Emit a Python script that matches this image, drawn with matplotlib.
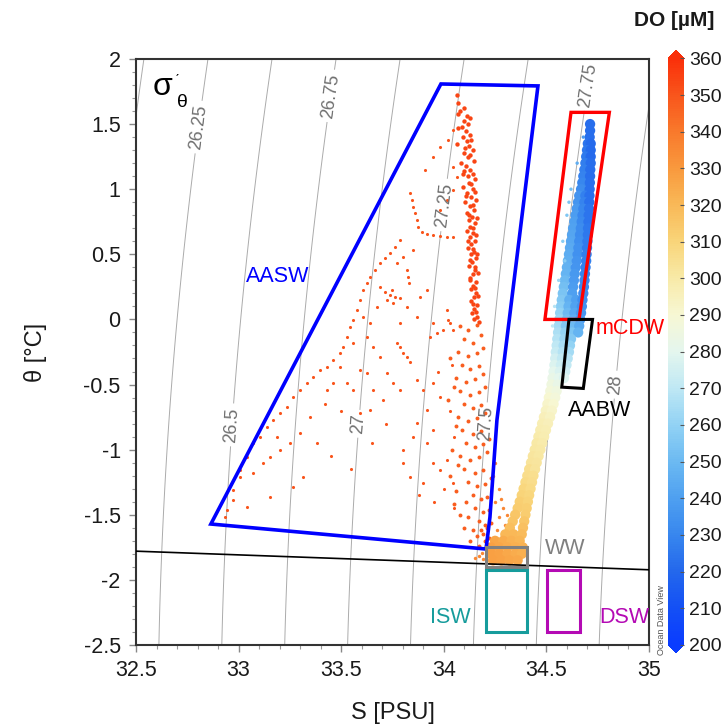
import numpy as np
import matplotlib.pyplot as plt
from matplotlib.colors import LinearSegmentedColormap, Normalize
from matplotlib.cm import ScalarMappable

plt.rcParams['font.family'] = ['Liberation Sans', 'DejaVu Sans']

# mCDW core + tail down to WW (S, theta, DO), one row per theta level
cdw_s = [34.713,
         34.713,
         34.711,
         34.702, 34.716,
         34.698, 34.716,
         34.694, 34.716,
         34.690, 34.716,
         34.685, 34.714,
         34.680, 34.713,
         34.675, 34.712,
         34.669, 34.711,
         34.660, 34.690, 34.710,
         34.654, 34.685, 34.709,
         34.648, 34.680, 34.708,
         34.642, 34.676, 34.706,
         34.636, 34.672, 34.705,
         34.630, 34.668, 34.703,
         34.625, 34.664, 34.702,
         34.620, 34.660, 34.700,
         34.615, 34.656, 34.698,
         34.610, 34.652, 34.696,
         34.605, 34.648, 34.694,
         34.600, 34.643, 34.691,
         34.595, 34.638, 34.688,
         34.590, 34.634, 34.686,
         34.585, 34.630, 34.683,
         34.580, 34.626, 34.680,
         34.575, 34.612, 34.645, 34.676,
         34.571, 34.608, 34.641, 34.673,
         34.567, 34.604, 34.637, 34.669,
         34.563, 34.600, 34.633, 34.665,
         34.560, 34.595, 34.630, 34.660,
         34.557, 34.592, 34.625, 34.655,
         34.553, 34.588, 34.620,
         34.550, 34.584, 34.615,
         34.546, 34.580, 34.610,
         34.543, 34.576, 34.604,
         34.539, 34.571, 34.598,
         34.535, 34.566, 34.592,
         34.530, 34.561, 34.586,
         34.525, 34.556,
         34.519, 34.550,
         34.512, 34.543,
         34.505, 34.535,
         34.497, 34.527,
         34.488, 34.518,
         34.479, 34.508,
         34.470, 34.498,
         34.461, 34.489,
         34.452, 34.480,
         34.443, 34.471,
         34.434, 34.462,
         34.425, 34.453,
         34.416, 34.445,
         34.407, 34.437,
         34.398, 34.430,
         34.389, 34.423,
         34.380, 34.416,
         34.370, 34.410,
         34.360, 34.404,
         34.348, 34.398,
         34.336, 34.392,
         34.322, 34.386,
         34.300, 34.340, 34.380,
         34.250, 34.290, 34.330, 34.370,
         34.230, 34.270, 34.310, 34.350, 34.385,
         34.230, 34.270, 34.310, 34.350, 34.380,
         34.240, 34.280, 34.320, 34.360]
cdw_t = [1.50,
         1.45,
         1.40,
         1.35, 1.35,
         1.30, 1.30,
         1.25, 1.25,
         1.20, 1.20,
         1.15, 1.15,
         1.10, 1.10,
         1.05, 1.05,
         1.00, 1.00,
         0.95, 0.95, 0.95,
         0.90, 0.90, 0.90,
         0.85, 0.85, 0.85,
         0.80, 0.80, 0.80,
         0.75, 0.75, 0.75,
         0.70, 0.70, 0.70,
         0.65, 0.65, 0.65,
         0.60, 0.60, 0.60,
         0.55, 0.55, 0.55,
         0.50, 0.50, 0.50,
         0.45, 0.45, 0.45,
         0.40, 0.40, 0.40,
         0.35, 0.35, 0.35,
         0.30, 0.30, 0.30,
         0.25, 0.25, 0.25,
         0.20, 0.20, 0.20,
         0.15, 0.15, 0.15, 0.15,
         0.10, 0.10, 0.10, 0.10,
         0.05, 0.05, 0.05, 0.05,
         0.00, 0.00, 0.00, 0.00,
         -0.05, -0.05, -0.05, -0.05,
         -0.10, -0.10, -0.10, -0.10,
         -0.15, -0.15, -0.15,
         -0.20, -0.20, -0.20,
         -0.25, -0.25, -0.25,
         -0.30, -0.30, -0.30,
         -0.35, -0.35, -0.35,
         -0.40, -0.40, -0.40,
         -0.45, -0.45, -0.45,
         -0.50, -0.50,
         -0.55, -0.55,
         -0.60, -0.60,
         -0.65, -0.65,
         -0.70, -0.70,
         -0.75, -0.75,
         -0.80, -0.80,
         -0.85, -0.85,
         -0.90, -0.90,
         -0.95, -0.95,
         -1.00, -1.00,
         -1.05, -1.05,
         -1.10, -1.10,
         -1.15, -1.15,
         -1.20, -1.20,
         -1.25, -1.25,
         -1.30, -1.30,
         -1.35, -1.35,
         -1.40, -1.40,
         -1.45, -1.45,
         -1.50, -1.50,
         -1.55, -1.55,
         -1.60, -1.60,
         -1.65, -1.65, -1.65,
         -1.70, -1.70, -1.70, -1.70,
         -1.75, -1.75, -1.75, -1.75, -1.75,
         -1.80, -1.80, -1.80, -1.80, -1.80,
         -1.85, -1.85, -1.85, -1.85]
cdw_do = [222,
          222,
          222,
          224, 221,
          225, 221,
          226, 221,
          227, 222,
          228, 222,
          229, 222,
          230, 223,
          232, 223,
          235, 228, 223,
          236, 229, 223,
          238, 230, 224,
          239, 230, 224,
          240, 231, 224,
          241, 232, 225,
          242, 232, 225,
          243, 233, 226,
          244, 234, 226,
          245, 234, 227,
          246, 235, 228,
          247, 236, 228,
          248, 237, 229,
          250, 238, 230,
          252, 239, 231,
          254, 240, 232,
          256, 246, 240, 233,
          258, 248, 241, 234,
          260, 250, 243, 236,
          262, 252, 245, 238,
          264, 256, 250, 244,
          266, 260, 254, 248,
          268, 262, 256,
          270, 265, 260,
          272, 268, 264,
          275, 271, 268,
          278, 274, 271,
          280, 277, 274,
          283, 280, 278,
          286, 283,
          288, 286,
          290, 288,
          292, 290,
          294, 292,
          296, 294,
          297, 296,
          298, 297,
          299, 298,
          300, 299,
          301, 300,
          302, 301,
          303, 302,
          305, 303,
          306, 305,
          307, 306,
          309, 307,
          310, 309,
          312, 310,
          313, 312,
          315, 313,
          316, 315,
          318, 317,
          320, 320, 319,
          326, 324, 322, 321,
          328, 326, 324, 323, 322,
          328, 327, 325, 324, 323,
          328, 327, 326, 325]

# scattered light-blue points at the wedge edge
edge_s = [34.600, 34.580, 34.620, 34.560, 34.540, 34.650, 34.590, 34.680, 34.530, 34.610]
edge_t = [0.80, 0.60, 1.00, 0.30, 0.10, 1.20, 0.45, 1.40, -0.05, 0.90]
edge_do = [255, 258, 252, 262, 268, 245, 258, 238, 270, 254]

# AASW scatter (orange, DO ~350)
aasw_s = [33.787, 33.762, 33.738, 33.714, 33.689, 33.665, 33.640, 33.624, 33.608, 33.592,
          33.575, 33.559, 33.543, 33.527, 33.511, 33.494, 33.462, 33.429, 33.397, 33.364,
          33.332, 33.299, 33.267, 33.234, 33.202, 33.169, 33.137, 33.104, 33.072, 33.039,
          33.007, 32.974, 32.942, 32.934,
          33.835, 33.843, 33.852, 33.860, 33.868, 33.876, 33.892, 33.917, 33.949, 33.982,
          34.014, 34.047,
          33.908, 33.949, 33.982, 34.022, 34.047, 33.982, 34.014, 34.047, 34.063, 34.047,
          33.689, 33.714, 33.738, 33.762, 33.787, 33.746, 33.722, 33.754, 33.819, 33.827,
          33.832,
          33.884, 33.917, 33.868, 33.949, 33.933, 33.965, 33.998, 34.014, 34.022, 34.030,
          34.047, 33.787, 33.803, 33.819, 33.835, 33.770, 33.657, 33.689, 33.722, 33.754,
          33.787, 33.592, 33.624, 33.494, 33.527, 33.462, 33.429, 33.559, 33.657, 33.868,
          33.900, 33.949, 33.982, 33.917, 33.868, 33.949, 33.852, 33.803, 33.835, 33.949,
          33.982, 34.014, 34.047, 33.900,
          33.592, 33.640, 33.705, 33.381, 33.299, 33.251, 33.202, 33.153, 33.121, 33.186,
          33.316, 33.267, 33.153, 33.039, 32.974, 33.007, 33.072,
          33.608, 33.640, 33.673, 33.559, 33.624, 33.787, 33.819, 33.770, 33.803, 33.852,
          33.880, 33.950, 34.000, 33.800, 34.050, 33.920, 34.030, 34.050, 33.970, 34.040,
          33.720, 33.650, 33.500, 33.420, 33.350, 33.550, 33.450]
aasw_t = [0.610, 0.559, 0.508, 0.469, 0.431, 0.380, 0.328, 0.277, 0.226, 0.149,
          0.072, -0.004, -0.056, -0.132, -0.209, -0.260, -0.312, -0.363, -0.388, -0.440,
          -0.491, -0.542, -0.593, -0.670, -0.721, -0.772, -0.824, -0.900, -0.952, -1.054,
          -1.156, -1.310, -1.464, -1.515,
          0.968, 0.917, 0.866, 0.815, 0.764, 0.712, 0.674, 0.656, 0.646, 0.641,
          0.636, 0.636,
          1.148, 1.250, 1.327, 1.378, 1.455, 0.840, 0.917, 0.994, 1.096, 1.173,
          0.252, 0.213, 0.188, 0.175, 0.162, 0.226, 0.149, 0.124, 0.380, 0.328,
          0.277,
          0.175, 0.226, 0.021, -0.030, -0.132, -0.107, -0.081, 0.072, -0.004, -0.030,
          -0.081, -0.209, -0.260, -0.286, -0.324, -0.184, -0.209, -0.286, -0.414, -0.491,
          -0.542, -0.388, -0.414, -0.363, -0.491, -0.491, -0.542, -0.542, -0.542, -0.465,
          -0.542, -0.491, -0.593, -0.696, -0.798, -0.849, -0.900, -1.003, -1.208, -1.105,
          -1.156, -1.080, -1.259, -1.259,
          -0.721, -0.696, -0.619, -0.952, -0.875, -0.952, -1.003, -1.054, -1.105, -0.900,
          -1.208, -1.285, -1.361, -1.438, -1.387, -1.208, -1.182,
          0.021, -0.030, 0.098, -0.184, -0.132, -0.030, 0.098, 0.431, 0.482, 0.533,
          -1.350, -1.400, -1.300, -1.100, -1.450, -0.950, -0.700, -0.900, -0.400, -0.350,
          -0.800, -0.950, -0.700, -0.650, -0.750, -1.150, -1.050]
aasw_do = 350

# dense orange column near S=34.1
spine_s = [34.064, 34.070, 34.100, 34.068, 34.112, 34.098, 34.120, 34.070, 34.108, 34.128,
           34.092, 34.115, 34.066, 34.124, 34.140, 34.100, 34.118, 34.145, 34.085, 34.110,
           34.130, 34.096, 34.118, 34.150, 34.125, 34.092, 34.140, 34.115, 34.132, 34.155,
           34.105, 34.128, 34.145, 34.112, 34.136, 34.122, 34.150, 34.130, 34.115, 34.142,
           34.128, 34.150, 34.135, 34.120, 34.145, 34.132, 34.155, 34.138, 34.125, 34.150,
           34.140, 34.128, 34.155, 34.142, 34.135, 34.158, 34.145, 34.132, 34.160, 34.148,
           34.138, 34.162,
           34.080, 34.130, 34.090, 34.135, 34.105, 34.130, 34.100, 34.140, 34.135, 34.150,
           34.110, 34.140, 34.125, 34.160, 34.140, 34.155, 34.120, 34.140, 34.160, 34.130,
           34.150, 34.165, 34.130, 34.150, 34.165, 34.140, 34.155, 34.145, 34.170]
spine_t = [1.72, 1.66, 1.62, 1.58, 1.56, 1.52, 1.50, 1.47, 1.45, 1.42,
           1.40, 1.37, 1.35, 1.33, 1.30, 1.28, 1.25, 1.22, 1.20, 1.18,
           1.15, 1.12, 1.10, 1.08, 1.05, 1.02, 1.00, 0.97, 0.94, 0.92,
           0.90, 0.87, 0.84, 0.82, 0.79, 0.76, 0.74, 0.71, 0.68, 0.66,
           0.63, 0.60, 0.58, 0.55, 0.52, 0.50, 0.47, 0.44, 0.41, 0.38,
           0.35, 0.32, 0.29, 0.26, 0.23, 0.20, 0.17, 0.14, 0.11, 0.08,
           0.05, 0.02,
           1.60, 1.55, 1.48, 1.38, 1.32, 1.26, 1.14, 1.12, 1.04, 0.98,
           0.95, 0.88, 0.80, 0.78, 0.70, 0.65, 0.60, 0.54, 0.50, 0.46,
           0.40, 0.36, 0.30, 0.24, 0.18, 0.12, 0.06, 0.00, -0.02]
spine_do = 354

# orange points below theta=0 next to the AASW right edge
low_s = [34.08, 34.12, 34.16, 34.10, 34.14, 34.18, 34.07, 34.12, 34.16, 34.19,
         34.09, 34.13, 34.17, 34.06, 34.11, 34.15, 34.19, 34.08, 34.13, 34.17,
         34.20, 34.10, 34.14, 34.18, 34.07, 34.12, 34.16, 34.20, 34.09, 34.14,
         34.18, 34.11, 34.15, 34.19, 34.22, 34.08, 34.13, 34.17, 34.21, 34.10,
         34.15, 34.19, 34.12, 34.16, 34.20, 34.23, 34.14, 34.18, 34.21, 34.15,
         34.19, 34.22, 34.17, 34.20, 34.23, 34.19, 34.22, 34.21, 34.24,
         34.03, 34.05, 34.02, 34.06, 34.04, 34.07, 34.03, 34.06, 34.05, 34.08,
         34.10, 34.12, 34.11, 34.14, 34.13, 34.16, 34.17, 34.18, 34.20, 34.21]
low_t = [-0.05, -0.08, -0.04, -0.15, -0.18, -0.12, -0.25, -0.28, -0.26, -0.22,
         -0.35, -0.38, -0.36, -0.45, -0.48, -0.46, -0.42, -0.55, -0.58, -0.56,
         -0.52, -0.65, -0.68, -0.66, -0.75, -0.78, -0.76, -0.72, -0.85, -0.88,
         -0.86, -0.95, -0.98, -0.96, -0.92, -1.05, -1.08, -1.06, -1.02, -1.15,
         -1.18, -1.16, -1.25, -1.28, -1.26, -1.22, -1.35, -1.38, -1.36, -1.45,
         -1.48, -1.46, -1.55, -1.58, -1.56, -1.65, -1.68, -1.75, -1.72,
         -0.30, -0.52, -0.62, -0.82, -1.00, -1.12, -1.20, -1.32, -1.42, -1.50,
         -1.60, -1.52, -1.40, -1.62, -1.70, -1.66, -1.74, -1.62, -1.70, -1.60]
low_do = 348

# lighter orange points east of the AASW edge and under it
near_s = [34.24, 34.27, 34.25, 34.29, 34.27, 34.30, 34.26, 34.31, 34.28, 34.33,
          34.25, 34.28, 34.15, 34.17, 34.19, 34.185]
near_t = [-1.20, -1.30, -1.40, -1.45, -1.52, -1.58, -1.62, -1.50, -1.68, -1.62,
          -1.10, -1.38, -1.83, -1.82, -1.84, -1.79]
near_do = 336

# water mass boxes
aasw_box_s = [32.865, 33.986, 34.459, 34.259, 34.225, 34.206]
aasw_box_t = [-1.571, 1.808, 1.793, -0.773, -1.518, -1.763]
mcdw_box_s = [34.493, 34.620, 34.807, 34.659]
mcdw_box_t = [0.0, 1.59, 1.59, 0.0]
aabw_box_s = [34.610, 34.725, 34.680, 34.575]
aabw_box_t = [0.0, 0.0, -0.53, -0.52]
ww_box_s = [34.206, 34.408, 34.408, 34.206]
ww_box_t = [-1.75, -1.75, -1.90, -1.90]
isw_box_s = [34.206, 34.404, 34.404, 34.206]
isw_box_t = [-1.925, -1.925, -2.398, -2.398]
dsw_box_s = [34.501, 34.664, 34.664, 34.501]
dsw_box_t = [-1.925, -1.925, -2.398, -2.398]

sigma_levels = [26.0, 26.25, 26.5, 26.75, 27.0, 27.25, 27.5, 27.75, 28.0, 28.25]
do_ticks = [200, 210, 220, 230, 240, 250, 260, 270, 280, 290, 300, 310, 320, 330, 340, 350, 360]
odv_colors = ['#0a3cff', '#1450f5', '#2468ec', '#3887ee', '#4fa0f0', '#6cbaf2', '#92d2f4',
              '#bfe8f4', '#e4f6ee', '#f7f7d4', '#f8eaa8', '#f9d57a', '#f9b958', '#f99a3e',
              '#f97a2c', '#f9561c', '#fa300a']


def sigma_theta(S, T):
    rw = (999.842594 + 6.793952e-2 * T - 9.095290e-3 * T**2 + 1.001685e-4 * T**3
          - 1.120083e-6 * T**4 + 6.536332e-9 * T**5)
    a = 0.824493 - 4.0899e-3 * T + 7.6438e-5 * T**2 - 8.2467e-7 * T**3 + 5.3875e-9 * T**4
    b = -5.72466e-3 + 1.0227e-4 * T - 1.6546e-6 * T**2
    return rw + a * S + b * S**1.5 + 4.8314e-4 * S**2 - 1000


def t_freeze(S):
    return -0.0575 * S + 1.710523e-3 * S**1.5 - 2.154996e-4 * S**2


cmap = LinearSegmentedColormap.from_list(
    'odv', [((d - 200) / 160, c) for d, c in zip(do_ticks, odv_colors)])
norm = Normalize(200, 360)

fig = plt.figure(figsize=(7.21, 7.28), dpi=100)
ax = fig.add_axes([0.1886, 0.114, 0.7115, 0.805])

# isopycnals
sg, tg = np.meshgrid(np.linspace(32.5, 35, 300), np.linspace(-2.5, 2, 300))
cs = ax.contour(sg, tg, sigma_theta(sg, tg), levels=sigma_levels,
                colors='#ababab', linewidths=0.7, zorder=1)
ax.clabel(cs, fmt=lambda v: f'{v:g}', fontsize=13, colors='#707070', inline=True,
          inline_spacing=4,
          manual=[(32.79, 1.48), (32.97, -0.81), (33.30, 1.75), (33.575, -0.80),
                  (33.996, 0.88), (34.20, -0.80), (34.71, 1.80), (34.83, -0.50)])

s_line = np.linspace(32.5, 35, 50)
ax.plot(s_line, t_freeze(s_line), color='black', lw=1.2, zorder=3)

ax.scatter(aasw_s, aasw_t, s=5, color=cmap(norm(aasw_do)), lw=0, zorder=2)
ax.scatter(spine_s, spine_t, s=10, color=cmap(norm(spine_do)), lw=0, zorder=2)
ax.scatter(low_s, low_t, s=8, color=cmap(norm(low_do)), lw=0, zorder=2)
ax.scatter(near_s, near_t, s=6, color=cmap(norm(near_do)), lw=0, zorder=2)
ax.scatter(cdw_s, cdw_t, s=55, c=cdw_do, cmap=cmap, norm=norm, lw=0, zorder=2)
ax.scatter(edge_s, edge_t, s=6, c=edge_do, cmap=cmap, norm=norm, lw=0, zorder=2)

ax.fill(aasw_box_s, aasw_box_t, fill=False, ec='#0000ff', lw=2.6, zorder=3)
ax.fill(mcdw_box_s, mcdw_box_t, fill=False, ec='#ff0000', lw=2.4, zorder=3)
ax.fill(aabw_box_s, aabw_box_t, fill=False, ec='black', lw=2.2, zorder=3)
ax.fill(ww_box_s, ww_box_t, fill=False, ec='#808080', lw=2.2, zorder=3)
ax.fill(isw_box_s, isw_box_t, fill=False, ec='#169c9c', lw=2.2, zorder=3)
ax.fill(dsw_box_s, dsw_box_t, fill=False, ec='#b40ab4', lw=2.2, zorder=3)

ax.text(33.19, 0.33, 'AASW', color='#0000ff', fontsize=15.5, ha='center', va='center')
ax.text(34.91, -0.07, 'mCDW', color='#ff0000', fontsize=15.5, ha='center', va='center')
ax.text(34.76, -0.70, 'AABW', color='black', fontsize=15.5, ha='center', va='center')
ax.text(34.59, -1.76, 'WW', color='#808080', fontsize=15.5, ha='center', va='center')
ax.text(34.03, -2.29, 'ISW', color='#169c9c', fontsize=15.5, ha='center', va='center')
ax.text(34.88, -2.29, 'DSW', color='#b40ab4', fontsize=15.5, ha='center', va='center')

ax.text(0.051, 0.952, 'σ', transform=ax.transAxes, fontsize=23, ha='center', va='center')
ax.text(0.090, 0.925, 'θ', transform=ax.transAxes, fontsize=14, ha='center', va='center')
ax.text(0.080, 0.962, 'ˊ', transform=ax.transAxes, fontsize=10, ha='center', va='center')

ax.set_xlim(32.5, 35)
ax.set_ylim(-2.5, 2)
ax.set_xticks([32.5, 33, 33.5, 34, 34.5, 35])
ax.set_xticklabels(['32.5', '33', '33.5', '34', '34.5', '35'])
ax.set_yticks([-2.5, -2, -1.5, -1, -0.5, 0, 0.5, 1, 1.5, 2])
ax.set_yticklabels(['-2.5', '-2', '-1.5', '-1', '-0.5', '0', '0.5', '1', '1.5', '2'])
ax.set_xticks(np.arange(32.5, 35.01, 0.1), minor=True)
ax.set_yticks(np.arange(-2.5, 2.01, 0.1), minor=True)
ax.tick_params(which='major', length=5, width=1, color='#888888', labelsize=15.5,
               labelcolor='#1a1a1a', pad=6)
ax.tick_params(which='minor', length=3, width=0.8, color='#999999')
for sp in ax.spines.values():
    sp.set_color('#333333')
    sp.set_linewidth(1.5)
ax.set_xlabel('S [PSU]', fontsize=17, labelpad=15, color='#1a1a1a')
ax.set_ylabel('θ [°C]', fontsize=17, labelpad=26, color='#1a1a1a')

cax = fig.add_axes([0.9265, 0.103, 0.0222, 0.828])
cb = fig.colorbar(ScalarMappable(norm=norm, cmap=cmap), cax=cax, extend='both', extendfrac=0.014)
cb.outline.set_visible(False)
cb.set_ticks(do_ticks)
cb.ax.tick_params(labelsize=14, length=3, direction='in', color='#555555', labelcolor='#1a1a1a')
fig.text(0.935, 0.972, 'DO [µM]', fontsize=15, fontweight='bold', ha='center', va='center', color='#1a1a1a')
fig.text(0.917, 0.148, 'Ocean Data View', fontsize=6.5, rotation=90, ha='center', va='center', color='#555555')

fig.savefig('out.png', dpi=100)
